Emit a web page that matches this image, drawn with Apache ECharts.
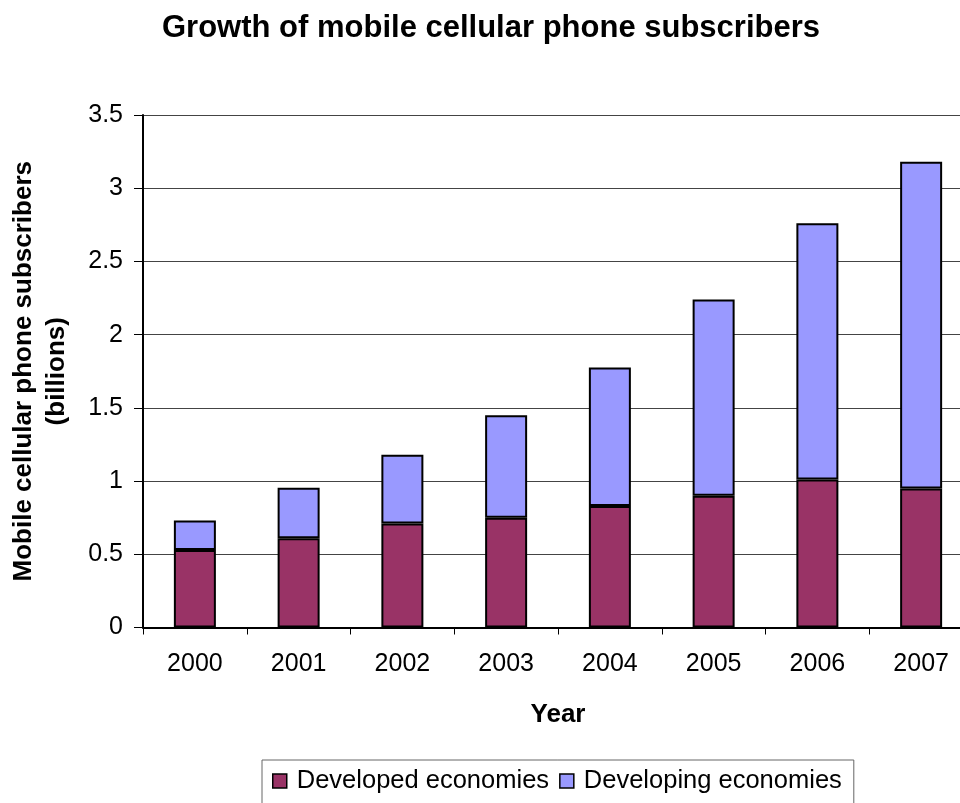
<!DOCTYPE html>
<html>
<head>
<meta charset="utf-8">
<script src="https://cdn.jsdelivr.net/npm/echarts@6/dist/echarts.min.js"></script>
<style>
  html, body { margin: 0; padding: 0; background: #fff; }
  #chart { width: 960px; height: 803px; }
</style>
</head>
<body>
<div id="chart"></div>
<script>
// Mobile cellular phone subscribers, in billions
const years = ['2000', '2001', '2002', '2003', '2004', '2005', '2006', '2007'];
const developed = [0.53, 0.61, 0.71, 0.75, 0.83, 0.90, 1.01, 0.95];
const developing = [0.20, 0.345, 0.47, 0.70, 0.945, 1.34, 1.75, 2.23];
const yTicks = [0, 0.5, 1, 1.5, 2, 2.5, 3, 3.5];

const font = 'Liberation Sans, Arial, sans-serif';
const chart = echarts.init(document.getElementById('chart'), null, { renderer: 'canvas' });

const barStyle = (color) => ({ color: color, borderColor: '#000', borderWidth: 2 });

chart.setOption({
  animation: false,
  title: {
    text: 'Growth of mobile cellular phone subscribers',
    left: 486, top: 8, textAlign: 'center',
    textStyle: { fontFamily: font, fontSize: 31, fontWeight: 'bold', color: '#000' }
  },
  legend: {
    left: 262, top: 760, icon: 'rect',
    itemWidth: 14, itemHeight: 14, itemGap: 10,
    padding: [8, 12, 30, 10],
    borderColor: '#666', borderWidth: 1,
    textStyle: { fontFamily: font, fontSize: 25.5, color: '#000', padding: [0, 0, 0, 5] },
    data: [
      { name: 'Developed economies', itemStyle: { color: '#993366', borderColor: '#000', borderWidth: 1.5 } },
      { name: 'Developing economies', itemStyle: { color: '#9999FF', borderColor: '#000', borderWidth: 1.5 } }
    ]
  },
  grid: { left: 143, top: 115, width: 830, height: 512.5, outerBoundsMode: 'none', containLabel: false },
  xAxis: {
    type: 'category', data: years,
    name: 'Year', nameLocation: 'middle', nameGap: 74,
    nameTextStyle: { fontFamily: font, fontSize: 26, fontWeight: 'bold', color: '#000' },
    axisLine: { lineStyle: { color: '#000', width: 2 } },
    axisTick: { show: true, length: 7, lineStyle: { color: '#000', width: 1 } },
    axisLabel: { fontFamily: font, fontSize: 25, color: '#000', margin: 24 }
  },
  yAxis: {
    type: 'value', min: 0, max: 3.5, interval: 0.5,
    name: 'Mobile cellular phone subscribers\n(billions)',
    nameLocation: 'middle', nameGap: 103, nameRotate: 90,
    nameTextStyle: {
      fontFamily: font, fontSize: 26, fontWeight: 'bold', color: '#000',
      lineHeight: 33, verticalAlign: 'middle'
    },
    axisLine: { show: true, lineStyle: { color: '#000', width: 2 } },
    axisTick: { show: true, length: 9, lineStyle: { color: '#000', width: 1 } },
    axisLabel: {
      fontFamily: font, fontSize: 25, color: '#000', margin: 20,
      formatter: (v) => yTicks.includes(v) ? String(v) : ''
    },
    splitLine: { show: true, lineStyle: { color: '#444', width: 1.2 } }
  },
  series: [
    {
      name: 'Developed economies', type: 'bar', stack: 'total',
      data: developed, barWidth: 42, itemStyle: barStyle('#993366')
    },
    {
      name: 'Developing economies', type: 'bar', stack: 'total',
      data: developing, barWidth: 42, itemStyle: barStyle('#9999FF')
    }
  ]
});
</script>
</body>
</html>
